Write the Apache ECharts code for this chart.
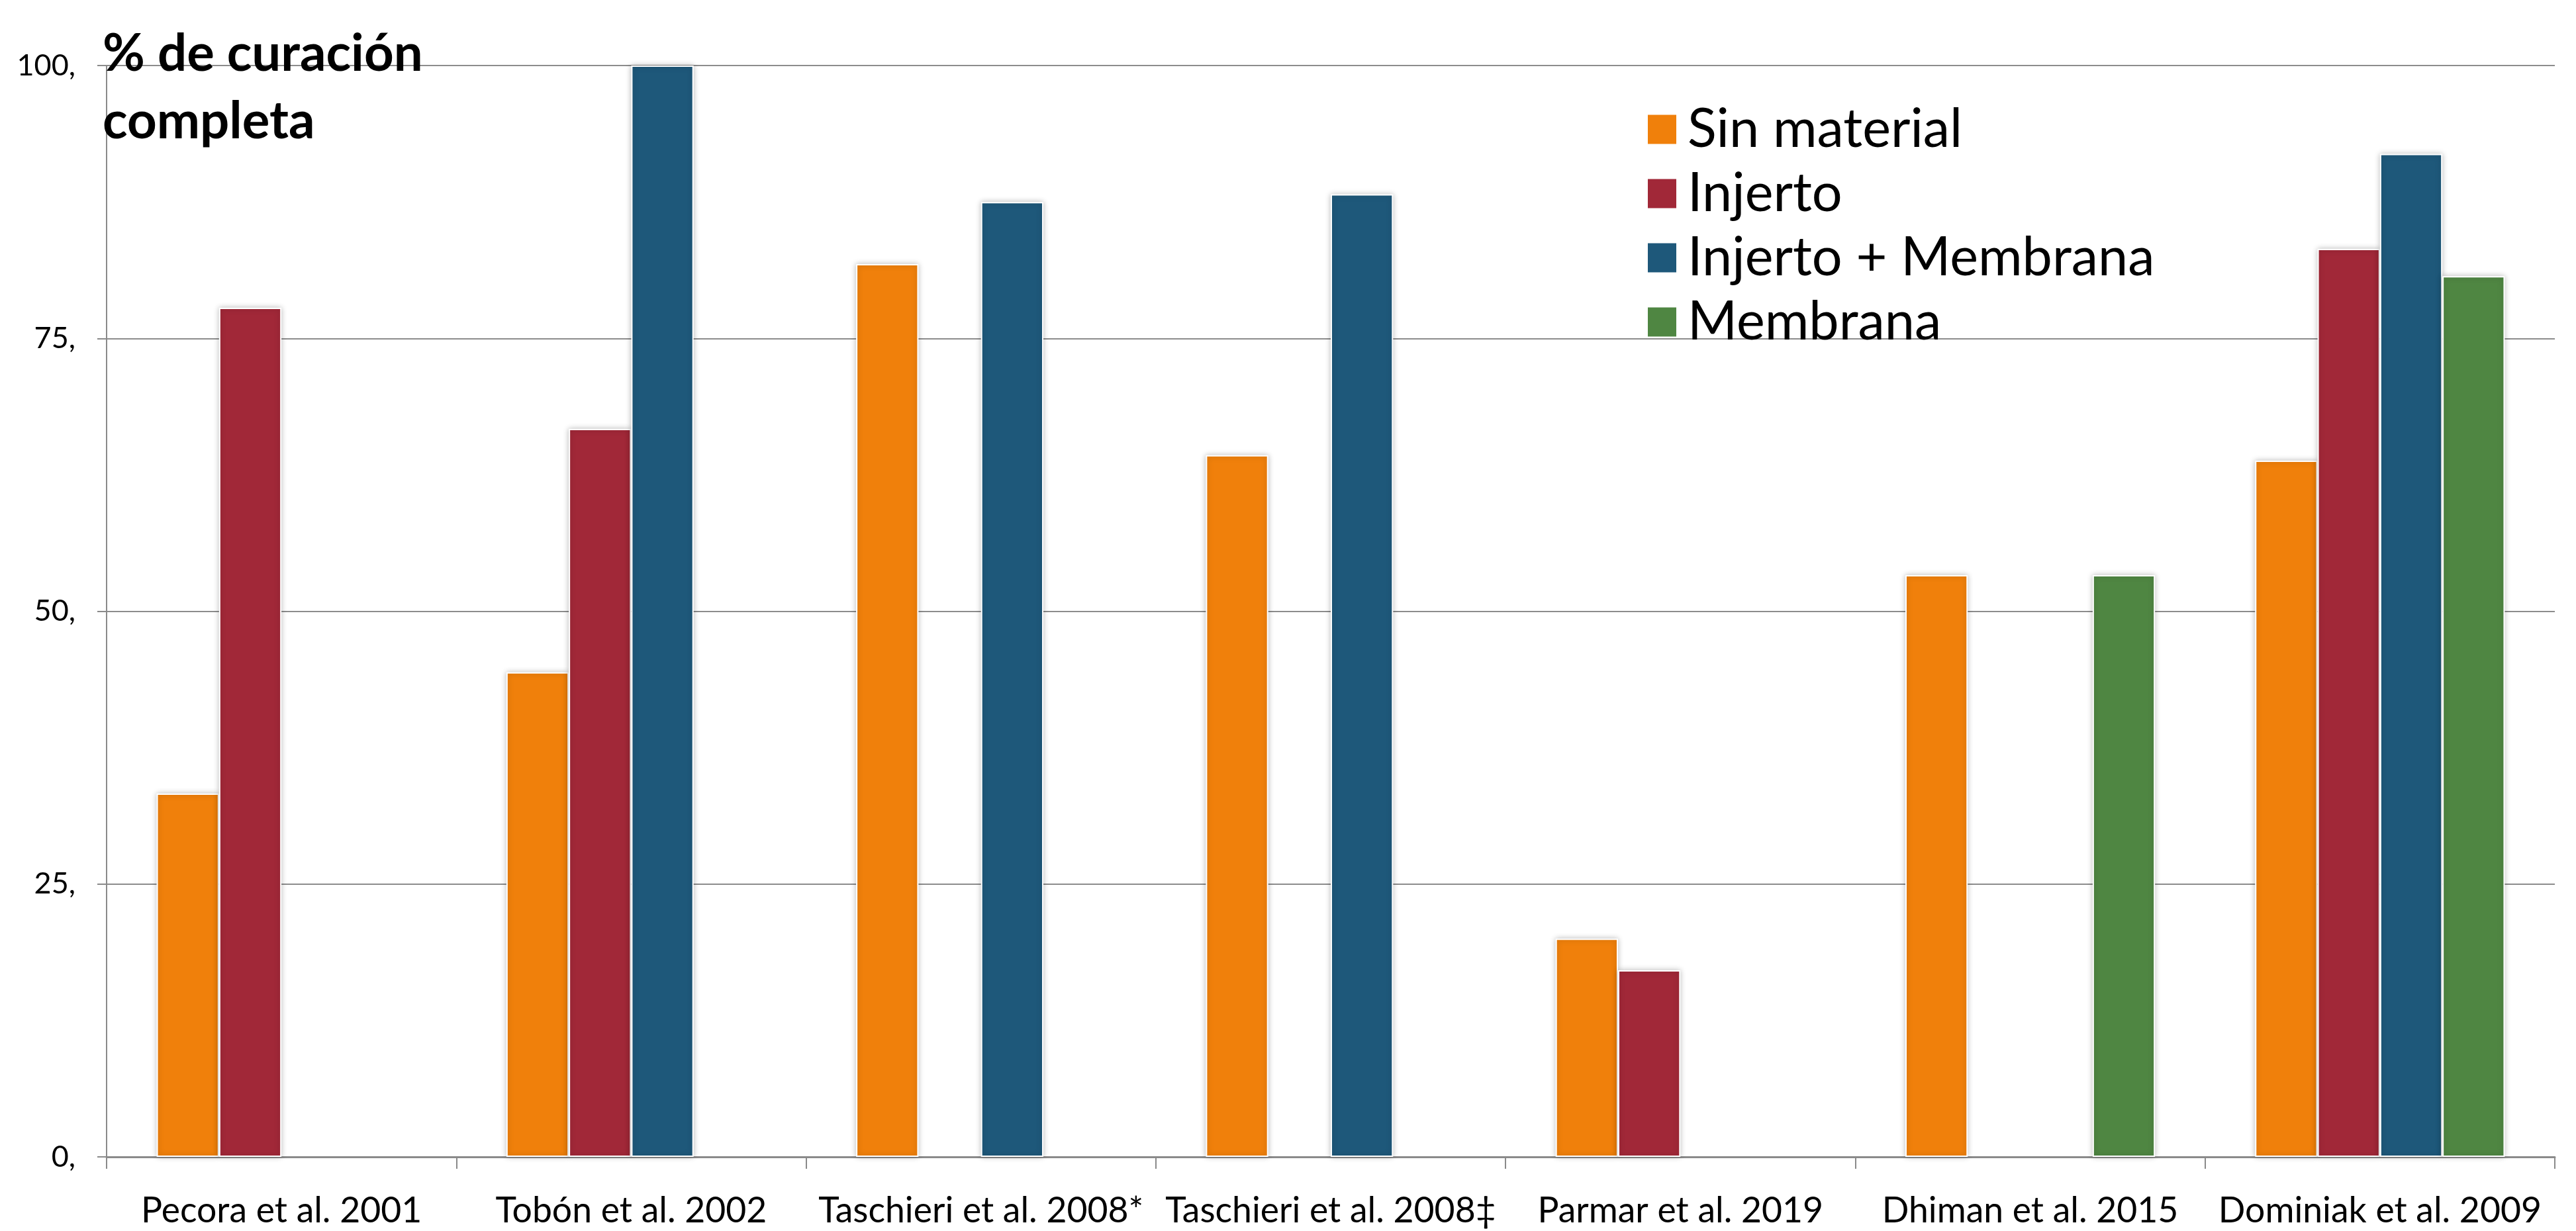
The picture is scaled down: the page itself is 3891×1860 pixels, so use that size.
<!DOCTYPE html>
<html>
<head>
<meta charset="utf-8">
<script src="https://cdn.jsdelivr.net/npm/echarts@6/dist/echarts.min.js"></script>
<style>
  html, body { margin: 0; padding: 0; background: #fff; }
  #chart { width: 3891px; height: 1860px; }
</style>
</head>
<body>
<div id="chart"></div>
<script>
// datos
const categories = ['Pecora et al. 2001', 'Tobón et al. 2002', 'Taschieri et al. 2008*', 'Taschieri et al. 2008‡',
  'Parmar et al. 2019', 'Dhiman et al. 2015', 'Dominiak et al. 2009'];
const sinMaterial = [33.3, 44.4, 81.8, 64.3, 20, 53.3, 63.8];
const injerto = [77.8, 66.7, null, null, 17.1, null, 83.2];
const injertoMembrana = [null, 100, 87.5, 88.2, null, null, 91.9];
const membrana = [null, null, null, null, null, 53.3, 80.7];
const seriesNames = ['Sin material', 'Injerto', 'Injerto + Membrana', 'Membrana'];
const colors = ['#F0800B', '#A12838', '#1E587A', '#4F8642'];

const FONT = 'Lato';
const myChart = echarts.init(document.getElementById('chart'));

function barSeries(name, values, color) {
  return {
    name: name,
    type: 'bar',
    data: values,
    barGap: '0%',
    barCategoryGap: '28.6%',
    itemStyle: {
      color: color,
      borderColor: '#fff',
      borderWidth: 2,
      shadowBlur: 8,
      shadowColor: 'rgba(0,0,0,0.25)'
    }
  };
}

const option = {
  backgroundColor: '#fff',
  animation: false,
  title: {
    text: '% de curación\ncompleta',
    left: 150,
    top: 26,
    z: 10,
    textStyle: {
      fontFamily: FONT,
      fontWeight: 'bold',
      fontSize: 78,
      lineHeight: 102,
      color: '#000'
    }
  },
  legend: {
    orient: 'vertical',
    left: 2482,
    top: 150,
    itemWidth: 45,
    itemHeight: 46,
    itemGap: 16,
    icon: 'rect',
    data: seriesNames,
    textStyle: {
      fontFamily: FONT,
      fontSize: 81,
      lineHeight: 46,
      color: '#000',
      padding: [0, 0, 0, 11]
    }
  },
  grid: {
    left: 161,
    right: 32,
    top: 99,
    bottom: 103,
    containLabel: false
  },
  xAxis: {
    type: 'category',
    data: categories,
    axisLine: { lineStyle: { color: '#8a8a8a', width: 3 } },
    axisTick: { show: true, length: 18, interval: 0, lineStyle: { color: '#8a8a8a', width: 2 } },
    axisLabel: {
      interval: 0,
      margin: 52,
      fontFamily: FONT,
      fontSize: 53.5,
      lineHeight: 60,
      color: '#000'
    }
  },
  yAxis: {
    type: 'value',
    min: 0,
    max: 100,
    interval: 25,
    axisLine: { show: true, lineStyle: { color: '#8a8a8a', width: 2 } },
    axisTick: { show: true, length: 14, lineStyle: { color: '#8a8a8a', width: 2 } },
    splitLine: { lineStyle: { color: '#8c8c8c', width: 2 } },
    axisLabel: {
      margin: 47,
      fontFamily: FONT,
      fontSize: 45,
      color: '#000',
      formatter: v => v + ','
    }
  },
  series: [
    barSeries(seriesNames[0], sinMaterial, colors[0]),
    barSeries(seriesNames[1], injerto, colors[1]),
    barSeries(seriesNames[2], injertoMembrana, colors[2]),
    barSeries(seriesNames[3], membrana, colors[3])
  ]
};

myChart.setOption(option);
</script>
</body>
</html>
